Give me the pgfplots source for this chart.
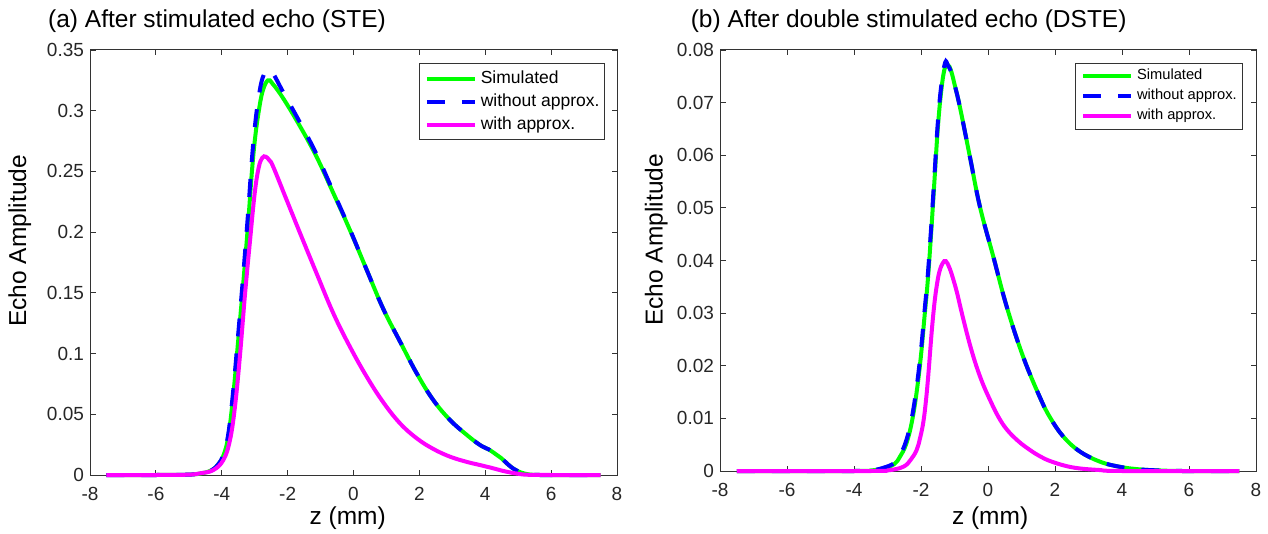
\documentclass[border=0pt]{standalone}
\usepackage{fontspec}
\setmainfont{Liberation Sans}
\usepackage{pgfplots}
\pgfplotsset{compat=1.18}

\definecolor{simgreen}{RGB}{0,255,0}
\definecolor{woblue}{RGB}{0,0,255}
\definecolor{wmag}{RGB}{255,0,255}

\pgfplotsset{
  echo/.style={
    scale only axis, clip=false,
    xmin=-8, xmax=8, xtick={-8,-6,...,8},
    scaled y ticks=false,
    axis line style={line width=1pt, black!80},
    tick style={line width=0.8pt, black!80},
    major tick length=5.5pt, tick align=inside,
    tick label style={font=\fontsize{19}{19}\selectfont, text=black!85},
    /pgf/number format/assume math mode=true,
    yticklabel style={/pgf/number format/fixed, /pgf/number format/precision=2, xshift=-2.5pt},
    xticklabel style={yshift=-9pt},
    label style={font=\fontsize{24.5}{24.5}\selectfont, anchor=center},
    legend cell align=left,
    legend image code/.code={\draw[##1] (0pt,0pt) -- (48pt,0pt);},
  },
  sim/.style={simgreen, line width=4pt, smooth, tension=0.65},
  woa/.style={woblue, line width=4pt, dash pattern=on 18pt off 17pt, smooth, tension=0.65},
  wa/.style={wmag, line width=4pt, smooth, tension=0.65},
}

\begin{document}
\begin{tikzpicture}
\useasboundingbox (0pt,0pt) rectangle (1268pt,533pt);

% (a) STE
\begin{axis}[echo,
  at={(90pt,58pt)}, anchor=south west, width=527pt, height=425pt,
  ymin=0, ymax=0.35, ytick={0,0.05,...,0.35},
  xlabel={z (mm)}, ylabel={Echo Amplitude},
  xlabel style={at={(axis description cs:0.489,-0.101)}},
  ylabel style={at={(axis description cs:-0.133,0.551)}},
  legend style={at={(0.977,0.969)}, anchor=north east, draw=black!80, line width=0.8pt,
    fill=white, inner xsep=5pt, inner ysep=7pt, row sep=7pt, column sep=4pt,
    font=\fontsize{17.5}{17.5}\selectfont,
    nodes={inner sep=0pt, text height=12.5pt, text depth=3.5pt}},
]
\addplot[sim] coordinates {
(-7.5,0) (-6,0) (-5,0.0003) (-4.6,0.0015) (-4.3,0.004) (-4.1,0.009) (-3.95,0.016)
(-3.8,0.032) (-3.65,0.066) (-3.5,0.111) (-3.35,0.157) (-3.2,0.207) (-3.09,0.248)
(-2.99,0.277) (-2.88,0.299) (-2.76,0.316) (-2.6,0.325) (-2.45,0.322) (-2.13,0.310)
(-1.62,0.287) (-1.12,0.262) (-0.61,0.232) (-0.11,0.2018) (0.40,0.169) (0.90,0.137)
(1.41,0.110) (1.92,0.0837) (2.42,0.0618) (2.93,0.0453) (3.44,0.033) (3.84,0.0247)
(4.11,0.0210) (4.3,0.0175) (4.48,0.0140) (4.7,0.0085) (4.85,0.0053) (5.0,0.003)
(5.22,0.001) (5.5,0.0001) (6,0) (7.5,0)
};
\addlegendentry{Simulated}
\addplot[woa] coordinates {
(-7.5,0) (-6,0) (-5,0.0003) (-4.6,0.0015) (-4.3,0.004) (-4.1,0.009) (-3.95,0.017)
(-3.8,0.034) (-3.65,0.070) (-3.5,0.116) (-3.35,0.164) (-3.2,0.216) (-3.09,0.258)
(-2.99,0.288) (-2.88,0.311) (-2.76,0.327) (-2.6,0.334) (-2.45,0.331) (-2.13,0.315)
(-1.62,0.290) (-1.12,0.264) (-0.61,0.233) (-0.11,0.2023) (0.40,0.169) (0.90,0.137)
(1.41,0.110) (1.92,0.0837) (2.42,0.0618) (2.93,0.0453) (3.44,0.033) (3.84,0.0247)
(4.11,0.0210) (4.3,0.0175) (4.48,0.0140) (4.7,0.0085) (4.85,0.0053) (5.0,0.003)
(5.22,0.001) (5.5,0.0001) (6,0) (7.5,0)
};
\addlegendentry{without approx.}
\addplot[wa] coordinates {
(-7.5,0) (-6,0) (-5,0.0003) (-4.66,0.0014) (-4.26,0.004) (-3.95,0.0124) (-3.75,0.0288)
(-3.60,0.056) (-3.45,0.0974) (-3.29,0.150) (-3.14,0.1935) (-3.0,0.232) (-2.88,0.253)
(-2.77,0.2612) (-2.66,0.2621) (-2.55,0.259) (-2.44,0.254) (-2.03,0.2265) (-1.62,0.199)
(-1.12,0.166) (-0.61,0.133) (-0.11,0.1057) (0.40,0.081) (0.90,0.060) (1.41,0.0426)
(1.92,0.0302) (2.42,0.0215) (2.93,0.0151) (3.44,0.0108) (3.84,0.0082) (4.2,0.0058)
(4.6,0.003) (5.0,0.001) (5.3,0.0002) (6,0) (7.5,0)
};
\addlegendentry{with approx.}
\end{axis}

% (b) DSTE
\begin{axis}[echo,
  at={(720pt,62pt)}, anchor=south west, width=536pt, height=421pt,
  ymin=0, ymax=0.08, ytick={0,0.01,...,0.08},
  xlabel={z (mm)}, ylabel={Echo Amplitude},
  xlabel style={at={(axis description cs:0.504,-0.112)}},
  ylabel style={at={(axis description cs:-0.119,0.549)}},
  legend style={at={(0.976,0.969)}, anchor=north east, draw=black!80, line width=0.8pt,
    fill=white, inner xsep=6pt, inner ysep=6pt, row sep=6.5pt, column sep=4pt,
    font=\fontsize{14.7}{14.7}\selectfont,
    nodes={inner sep=0pt, text height=10.5pt, text depth=3pt}},
]
\addplot[sim] coordinates {
(-7.5,0) (-4,0) (-3.5,0.0001) (-3.13,0.0005) (-2.8,0.0013) (-2.63,0.0027) (-2.45,0.005)
(-2.28,0.0091) (-2.13,0.015) (-2.0,0.022) (-1.9,0.029) (-1.8,0.036) (-1.7,0.045)
(-1.6,0.055) (-1.5,0.065) (-1.4,0.072) (-1.3,0.0763) (-1.2,0.0772) (-1.1,0.0760)
(-1.0,0.0735) (-0.84,0.0692) (-0.54,0.0597) (-0.24,0.0502) (0.16,0.0407) (0.56,0.0312)
(1.05,0.0217) (1.55,0.0140) (1.85,0.0102) (2.24,0.0066) (2.72,0.0038) (3.33,0.0018)
(3.93,0.0008) (4.54,0.0003) (5.14,0.0001) (5.8,0) (7.5,0)
};
\addlegendentry{Simulated}
\addplot[woa] coordinates {
(-7.5,0) (-4,0) (-3.5,0.0001) (-3.13,0.0006) (-2.8,0.0015) (-2.63,0.003) (-2.45,0.0056)
(-2.28,0.0099) (-2.13,0.016) (-2.0,0.023) (-1.9,0.030) (-1.8,0.037) (-1.7,0.046)
(-1.6,0.056) (-1.5,0.066) (-1.4,0.0730) (-1.28,0.0776) (-1.2,0.0771) (-1.1,0.0758)
(-1.0,0.0735) (-0.84,0.0692) (-0.54,0.0597) (-0.24,0.0502) (0.16,0.0407) (0.56,0.0312)
(1.05,0.0217) (1.55,0.0140) (1.85,0.0102) (2.24,0.0066) (2.72,0.0038) (3.33,0.0018)
(3.93,0.0008) (4.54,0.0003) (5.14,0.0001) (5.8,0) (7.5,0)
};
\addlegendentry{without approx.}
\addplot[wa] coordinates {
(-7.5,0) (-3.5,0) (-3,0.0001) (-2.53,0.0008) (-2.3,0.0022) (-2.13,0.004) (-2.03,0.0062)
(-1.93,0.0093) (-1.85,0.0135) (-1.78,0.0184) (-1.68,0.0265) (-1.6,0.0318) (-1.53,0.0352)
(-1.45,0.0379) (-1.35,0.0395) (-1.26,0.0399) (-1.15,0.0386) (-1.05,0.0367) (-0.93,0.0340)
(-0.8,0.0305) (-0.64,0.0264) (-0.5,0.0231) (-0.34,0.0198) (-0.15,0.0165) (0.06,0.0135)
(0.3,0.0104) (0.56,0.0079) (0.9,0.0057) (1.25,0.0040) (1.55,0.0028) (1.85,0.0019)
(2.3,0.0010) (2.72,0.0005) (3.3,0.0002) (4,0) (7.5,0)
};
\addlegendentry{with approx.}
\end{axis}

\node[anchor=base west, inner sep=0pt, font=\fontsize{24.5}{24.5}\selectfont] at (48pt,505pt) {(a) After stimulated echo (STE)};
\node[anchor=base west, inner sep=0pt, font=\fontsize{24.5}{24.5}\selectfont] at (690.6pt,505pt) {(b) After double stimulated echo (DSTE)};
\end{tikzpicture}
\end{document}
